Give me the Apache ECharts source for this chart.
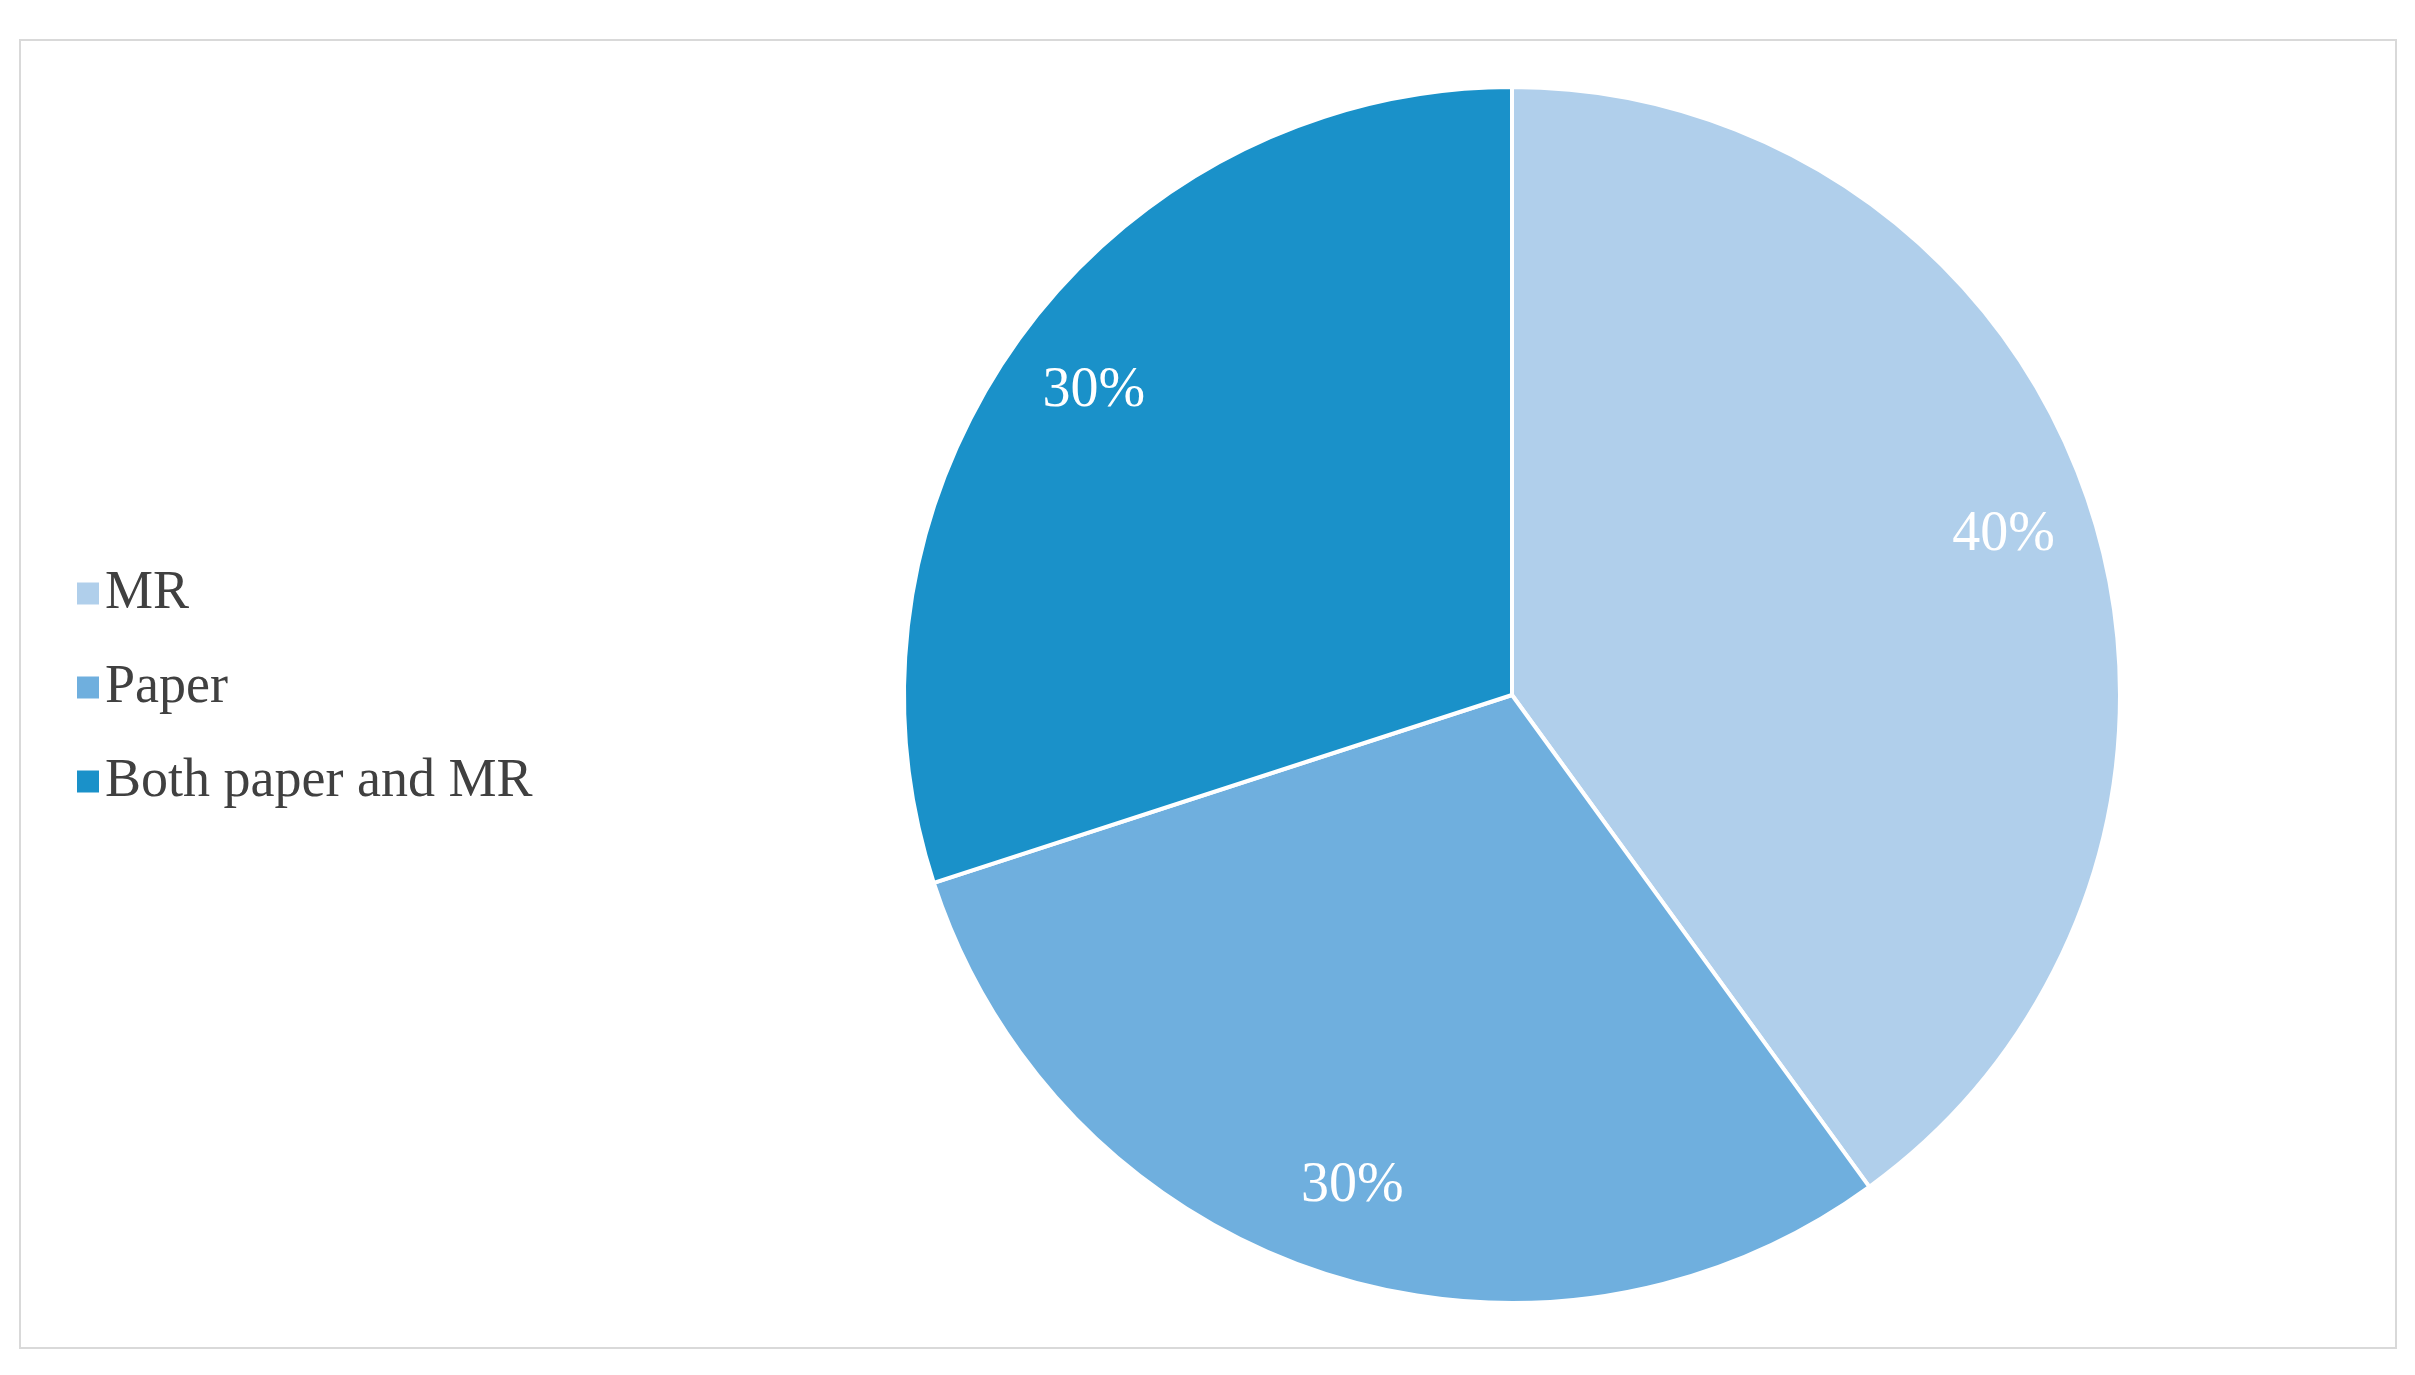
<!DOCTYPE html>
<html>
<head>
<meta charset="utf-8">
<script src="https://cdn.jsdelivr.net/npm/echarts@6/dist/echarts.min.js"></script>
<style>html,body{margin:0;padding:0;background:#fff}#main{width:2415px;height:1375px}</style>
</head>
<body>
<div id="main"></div>
<script>
const categories = ['MR', 'Paper', 'Both paper and MR'];
const values = [40, 30, 30];
const colors = ['#B0CFEB', '#6FAFDE', '#1A91C9'];

const chart = echarts.init(document.getElementById('main'));
const pieData = categories.map((name, i) => ({ name, value: values[i] }));
const center = [1512, 695];
const R = 608;

chart.setOption({
  color: colors,
  graphic: [{
    type: 'rect',
    shape: { x: 20, y: 40, width: 2376, height: 1308 },
    style: { fill: 'none', stroke: '#D9D9D9', lineWidth: 2 },
    silent: true
  }],
  legend: {
    orient: 'vertical',
    left: 70,
    top: 'middle',
    itemWidth: 24,
    itemHeight: 24,
    itemGap: 40,
    icon: 'rect',
    data: categories,
    textStyle: { fontFamily: 'Liberation Serif', fontSize: 54, color: '#404040' }
  },
  series: [
    {
      type: 'pie',
      center: center,
      radius: [0, R],
      startAngle: 90,
      clockwise: true,
      data: pieData,
      label: { show: false },
      labelLine: { show: false },
      itemStyle: { borderColor: '#fff', borderWidth: 4 },
      emphasis: { disabled: true },
      animation: false
    },
    {
      type: 'pie',
      center: center,
      radius: [R * 0.69, R],
      startAngle: 90,
      clockwise: true,
      silent: true,
      data: pieData,
      itemStyle: { color: 'transparent' },
      label: {
        show: true,
        position: 'inside',
        formatter: '{d}%',
        fontFamily: 'Liberation Serif',
        fontSize: 56,
        color: '#fff'
      },
      labelLine: { show: false },
      emphasis: { disabled: true },
      animation: false
    }
  ]
});
</script>
</body>
</html>
